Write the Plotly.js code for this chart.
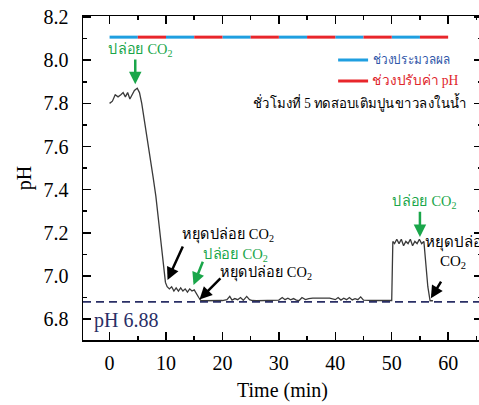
<!DOCTYPE html>
<html>
<head>
<meta charset="utf-8">
<script src="https://cdn.plot.ly/plotly-3.0.1.min.js"></script>
<style>html,body{margin:0;padding:0;overflow:hidden;background:#fff}#chart{width:482px;height:405px}</style>
</head>
<body>
<div id="chart"></div>
<script>
// ---- data ----
const timeMin = [0,0.5,1,1.5,2,2.4,2.8,3.2,3.6,4,4.4,4.9,5.3,5.7,6.2,6.7,7.2,7.7,8.2,8.7,9.2,9.6,9.9,
  10.2,10.6,11,11.4,11.8,12.2,12.6,13,13.4,13.8,14.2,14.6,15,15.4,15.8,16.2,
  17,18,19,20,20.8,21.3,21.7,22.2,22.7,23.2,23.7,24.3,24.8,25.3,26,27,28,29,30,30.6,31.1,31.6,32.1,32.6,33.1,33.6,34.1,34.7,35.3,36,37,38,39,40,40.5,41,41.5,42,42.5,43,43.5,44,44.5,45,46,47,48,49,49.8,
  50.0,50.2,50.5,50.9,51.3,51.7,52.1,52.5,52.9,53.3,53.7,54.1,54.5,54.9,55.3,55.7,56.0,56.4,56.8,57.3];
const phValues = [7.80,7.81,7.84,7.83,7.84,7.85,7.83,7.85,7.82,7.84,7.86,7.87,7.85,7.80,7.72,7.63,7.55,7.46,7.37,7.25,7.12,7.02,6.97,
  6.95,6.94,6.95,6.93,6.945,6.93,6.945,6.93,6.94,6.925,6.94,6.93,6.935,6.915,6.90,6.885,
  6.885,6.885,6.885,6.886,6.89,6.905,6.888,6.895,6.89,6.90,6.887,6.905,6.89,6.886,6.885,6.885,6.885,6.886,6.888,6.90,6.89,6.897,6.889,6.895,6.888,6.886,6.90,6.89,6.895,6.897,6.897,6.897,6.897,6.89,6.90,6.888,6.897,6.89,6.90,6.889,6.895,6.89,6.903,6.888,6.886,6.886,6.886,6.886,6.886,
  6.886,7.16,7.15,7.17,7.15,7.17,7.14,7.16,7.15,7.17,7.14,7.16,7.15,7.17,7.15,7.16,7.05,6.95,6.885,6.885];

// phase bar along the top (processing / pH adjustment periods)
const phaseStart = [0,5,10,15,20,25,30,35,40,45,50,55];
const phaseEnd   = [5,10,15,20,25,30,35,40,45,50,55,60];
const phaseType  = ['process','adjust','process','adjust','process','adjust','process','adjust','process','adjust','process','adjust'];
const phaseLevel = 8.107;

const refPH = 6.88;
const refLabel = 'pH 6.88';
const legendProcess = 'ช่วงประมวลผล';
const legendAdjust = 'ช่วงปรับค่า pH';
const noteText = 'ชั่วโมงที่ 5 ทดสอบเติมปูนขาวลงในน้ำ';
const xTitle = 'Time (min)';
const yTitle = 'pH';

// CO2 events
const releaseLabel = 'ปล่อย CO<sub>2</sub>';
const stopLabel = 'หยุดปล่อย CO<sub>2</sub>';
const eventText  = [releaseLabel, stopLabel, releaseLabel, stopLabel, releaseLabel];
const eventColor = ['#1aa64a','#000000','#1aa64a','#000000','#1aa64a'];
const eventTX = [5.44, 20.94, 22.36, 27.73, 55.75];
const eventTY = [8.047, 7.188, 7.098, 7.015, 7.344];
const eventW  = [64, 92, 65, 92, 64];
const arrowTailX = [4.55, 13.1, 16.63, 19.9, 55.0, 58.9];
const arrowTailY = [8.010, 7.143, 7.073, 6.996, 7.305, 6.981];
const arrowHeadX = [4.55, 10.27, 14.88, 15.94, 55.0, 56.94];
const arrowHeadY = [7.889, 6.981, 6.958, 6.891, 7.181, 6.896];
const arrowColor = ['#1aa64a','#000000','#1aa64a','#000000','#1aa64a','#000000'];

// ---- build ----
const BLUE = '#1f9fe0', RED = '#e8262b';
function phaseTrace(type, color){
  const x = [], y = [];
  phaseType.forEach((t,i)=>{ if(t===type){ x.push(phaseStart[i], phaseEnd[i], null); y.push(phaseLevel, phaseLevel, null);} });
  return {x, y, type:'scatter', mode:'lines', line:{color, width:3}, hoverinfo:'skip', showlegend:false};
}
const traces = [
  phaseTrace('process', BLUE),
  phaseTrace('adjust', RED),
  {x: timeMin, y: phValues, type:'scatter', mode:'lines', line:{color:'#3a3a3a', width:1.3}, showlegend:false}
];

const SERIF = '"Liberation Serif","Times New Roman",serif';
const annotations = [];
const fitWidth = {}; // annotation index -> rendered width (px)
eventText.forEach((t,i)=>{
  fitWidth[annotations.length] = eventW[i];
  annotations.push({x:eventTX[i], y:eventTY[i], xref:'x', yref:'y', text:t, showarrow:false,
    xanchor:'center', yanchor:'middle', font:{family:SERIF, size:15, color:eventColor[i]}});
});
// last stop label split at chart edge
annotations.push({x:55.6, y:7.151, xref:'x', yref:'y', text:'หยุดปล่อย', showarrow:false, xanchor:'left', align:'left', yanchor:'middle', font:{family:SERIF, size:15, color:'#000'}});
annotations.push({x:60.9, y:7.066, xref:'x', yref:'y', text:'CO<sub>2</sub>', showarrow:false, xanchor:'center', yanchor:'middle', font:{family:SERIF, size:15, color:'#000'}});
arrowHeadX.forEach((hx,i)=>{
  annotations.push({x:hx, y:arrowHeadY[i], xref:'x', yref:'y', ax:arrowTailX[i], ay:arrowTailY[i], axref:'x', ayref:'y',
    text:'', showarrow:true, arrowhead:2, arrowsize:1, arrowwidth:2.5, arrowcolor:arrowColor[i], standoff:0, startstandoff:0});
});
// legend text
fitWidth[annotations.length] = 78;
annotations.push({x:0.8222, y:0.8642, xref:'paper', yref:'paper', text:legendProcess, showarrow:false, xanchor:'center', yanchor:'middle', font:{family:SERIF, size:14, color:'#3056a8'}});
fitWidth[annotations.length] = 86;
annotations.push({x:0.8322, y:0.7994, xref:'paper', yref:'paper', text:legendAdjust, showarrow:false, xanchor:'center', yanchor:'middle', font:{family:SERIF, size:14, color:'#e0262b'}});
fitWidth[annotations.length] = 214;
annotations.push({x:0.6945, y:0.7315, xref:'paper', yref:'paper', text:noteText, showarrow:false, xanchor:'center', yanchor:'middle', font:{family:SERIF, size:14, color:'#000'}});
annotations.push({x:0.022, y:6.795, xref:'paper', yref:'y', text:refLabel, showarrow:false, xanchor:'left', yanchor:'middle', font:{family:SERIF, size:20, color:'#2a2f66'}});

const shapes = [
  {type:'line', xref:'paper', x0:0, x1:1, yref:'y', y0:refPH, y1:refPH, line:{color:'#2a2f66', width:1.8, dash:'8px,5px'}},
  {type:'line', xref:'paper', x0:0.6394, x1:0.7145, yref:'paper', y0:0.8642, y1:0.8642, line:{color:BLUE, width:3}},
  {type:'line', xref:'paper', x0:0.6394, x1:0.7145, yref:'paper', y0:0.7994, y1:0.7994, line:{color:RED, width:3}}
];

const axisCommon = {showline:true, linecolor:'#000', linewidth:1.5, mirror:'ticks', ticks:'inside', ticklen:8, tickwidth:1.5, tickcolor:'#000',
  showgrid:false, zeroline:false, tickfont:{family:SERIF, size:20, color:'#000'}};
const layout = {
  width:482, height:405,
  margin:{l:83, r:0, t:16, b:65},
  paper_bgcolor:'#fff', plot_bgcolor:'#fff',
  showlegend:false,
  xaxis: Object.assign({}, axisCommon, {range:[-4.71, 66.0], tick0:0, dtick:10, ticklabelstandoff:4,
    minor:{dtick:5, ticks:'inside', ticklen:4, tickwidth:1.5, tickcolor:'#000'},
    title:{text:xTitle, font:{family:SERIF, size:20, color:'#000'}, standoff:10}}),
  yaxis: Object.assign({}, axisCommon, {range:[6.703, 8.205], tick0:6.8, dtick:0.2, tickformat:'.1f', ticklabelstandoff:9,
    minor:{dtick:0.1, ticks:'inside', ticklen:4, tickwidth:1.5, tickcolor:'#000'},
    title:{text:yTitle, font:{family:SERIF, size:20, color:'#000'}, standoff:6}}),
  shapes, annotations
};
Plotly.newPlot('chart', traces, layout, {displayModeBar:false, staticPlot:true}).then(gd=>{
  gd.querySelectorAll('g.annotation').forEach(g=>{
    const i = +g.getAttribute('data-index');
    const w = fitWidth[i];
    if(!w) return;
    const t = g.querySelector('text.annotation-text');
    if(t){ t.setAttribute('textLength', w); t.setAttribute('lengthAdjust', 'spacingAndGlyphs'); }
  });
});
</script>
</body>
</html>
